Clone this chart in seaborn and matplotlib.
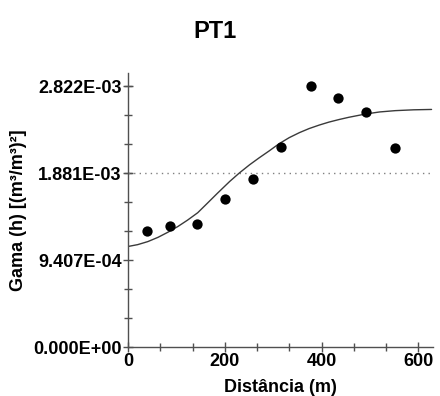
import numpy as np
import pandas as pd
import matplotlib
matplotlib.use("Agg")
import matplotlib.pyplot as plt
from matplotlib.ticker import MultipleLocator, FixedLocator, FuncFormatter
import seaborn as sns

# Experimental semivariogram points
lag_m = [40, 87, 142, 201, 259, 317, 377, 434, 492, 551]
gamma_exp = [1.250e-3, 1.312e-3, 1.330e-3, 1.604e-3, 1.818e-3,
             2.161e-3, 2.826e-3, 2.696e-3, 2.544e-3, 2.150e-3]

# Fitted model curve
model_x = [0, 20, 41, 62, 82, 103, 123, 144, 164, 185, 210, 230, 251, 271, 292,
           312, 333, 354, 374, 395, 415, 436, 456, 491, 520, 552, 590, 627]
model_y = [1.087e-3, 1.107e-3, 1.140e-3, 1.186e-3, 1.240e-3, 1.303e-3, 1.372e-3,
           1.452e-3, 1.555e-3, 1.664e-3, 1.790e-3, 1.882e-3, 1.970e-3, 2.046e-3,
           2.122e-3, 2.198e-3, 2.264e-3, 2.318e-3, 2.362e-3, 2.400e-3, 2.432e-3,
           2.460e-3, 2.484e-3, 2.520e-3, 2.542e-3, 2.556e-3, 2.565e-3, 2.569e-3]

variance = 1.881e-3
ytick_vals = [0.0, 9.407e-4, 1.881e-3, 2.822e-3]
xtick_vals = [0, 200, 400, 600]

title = "PT1"
xlabel = "Distância (m)"
ylabel = "Gama (h) [(m³/m³)²]"

sns.set_theme(style="ticks", rc={"text.color": "black", "axes.labelcolor": "black",
                                 "xtick.color": "black", "ytick.color": "black"})
plt.rcParams['font.family'] = ['Liberation Sans', 'DejaVu Sans']

fig = plt.figure(figsize=(4.4, 3.96), dpi=100)
ax = fig.add_axes([128/440, 1 - 347/396, (433 - 128)/440, (347 - 73)/396])

pts = pd.DataFrame({"h": lag_m, "g": gamma_exp})
mdl = pd.DataFrame({"h": model_x, "g": model_y})

ax.axhline(variance, color="#808080", linestyle=(0, (1, 3)), linewidth=1.0, zorder=1)
sns.lineplot(data=mdl, x="h", y="g", ax=ax, color="#3a3a3a", linewidth=1.0, zorder=2)
sns.scatterplot(data=pts, x="h", y="g", ax=ax, color="black", s=55,
                edgecolor="black", linewidth=0, zorder=3)

ax.set_xlim(0, 630)
ax.set_ylim(0, 2.822e-3 * 1.05)

ax.xaxis.set_major_locator(FixedLocator(xtick_vals))
ax.xaxis.set_minor_locator(MultipleLocator(200 / 3))
ax.yaxis.set_major_locator(FixedLocator(ytick_vals))
ax.yaxis.set_minor_locator(MultipleLocator(9.407e-4 / 3))
ax.yaxis.set_major_formatter(FuncFormatter(lambda v, p: "%.3E" % v))
ax.xaxis.set_major_formatter(FuncFormatter(lambda v, p: "%d" % v))

for side in ["top", "right"]:
    ax.spines[side].set_visible(False)
for side in ["left", "bottom"]:
    ax.spines[side].set_color("#505050")
    ax.spines[side].set_linewidth(1.0)

ax.tick_params(which="both", direction="inout", color="#505050", width=1.0,
               labelcolor="black")
ax.tick_params(which="major", length=7, labelsize=13, pad=1)
ax.tick_params(which="minor", length=6)
for lab in ax.get_xticklabels() + ax.get_yticklabels():
    lab.set_fontweight("bold")

ax.set_xlabel(xlabel, fontsize=13, fontweight="bold", labelpad=6, color="black")
ax.set_ylabel(ylabel, fontsize=13, fontweight="bold", color="black")
ax.yaxis.set_label_coords(-(128 - 27)/305, 0.5)

fig.text(215/440, 1 - 31/396, title, ha="center", va="center",
         fontsize=17, fontweight="bold", color="black")

fig.savefig("out.png", dpi=100, facecolor="white")
